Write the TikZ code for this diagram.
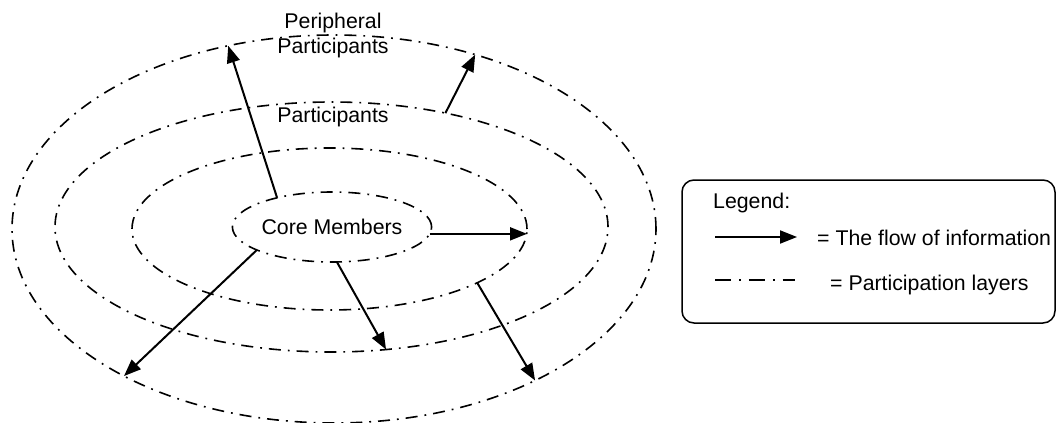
\documentclass[tikz,border=0pt]{standalone}
\usepackage{fontspec}
\setmainfont{Liberation Sans}
\usetikzlibrary{shapes.geometric,arrows.meta}
\tikzset{
  layer/.style={draw, ellipse, line width=1.6pt, inner sep=0pt, outer sep=0pt,
    dash pattern=on 12pt off 7pt on 1.8pt off 7pt},
  flow/.style={line width=2pt, -{Triangle[length=17pt,width=13pt]}},
  lbl/.style={font=\fontsize{21.3}{25}\selectfont, inner sep=0pt},
}
\begin{document}
\begin{tikzpicture}[x=1pt,y=-1pt]
\useasboundingbox (0,0) rectangle (1058,423);
% participation layers
\node[layer, minimum width=644pt, minimum height=388pt] (outer) at (334,229) {};
\node[layer, minimum width=553pt, minimum height=250pt] (middle) at (331.5,227) {};
\node[layer, minimum width=395pt, minimum height=162pt] (inner) at (329.5,229) {};
\node[layer, minimum width=192pt, minimum height=70pt, lbl] (core) at (332,227) {Core Members};
% labels
\node[lbl, align=center] (periph) at (333,35) {Peripheral\\Participants};
\node[lbl, anchor=base] (part) at (333,122) {Participants};
% flows
\draw[flow] (core.152) -- (outer.120.9);
\draw[flow] (middle.45.4) -- (outer.51.9);
\draw[flow] (core.-4) -- (core.-4 -| inner.east);
\draw[flow] (core.197) -- (outer.215.9);
\draw[flow] (core.-82) -- (middle.-66.7);
\draw[flow] (inner.-20) -- (outer.-37.9);
% legend
\node[draw, line width=1.5pt, rounded corners=12pt, minimum width=373pt, minimum height=143pt, inner sep=0pt] (legend) at (868.5,251.5) {};
\node[lbl, anchor=base west] (legtitle) at (713,208) {Legend:};
\coordinate (la1) at (715,237);
\coordinate (la2) at (797,237);
\draw[flow] (la1) -- (la2);
\node[lbl, anchor=base west] (legflow) at (817,245) {= The flow of information};
\coordinate (ld1) at (715,280);
\coordinate (ld2) at (795,280);
\draw[line width=1.6pt, dash pattern=on 16pt off 8pt on 1.8pt off 8pt] (ld1) -- (ld2);
\node[lbl, anchor=base west] (leglayer) at (830,290) {= Participation layers};
\end{tikzpicture}
\end{document}
